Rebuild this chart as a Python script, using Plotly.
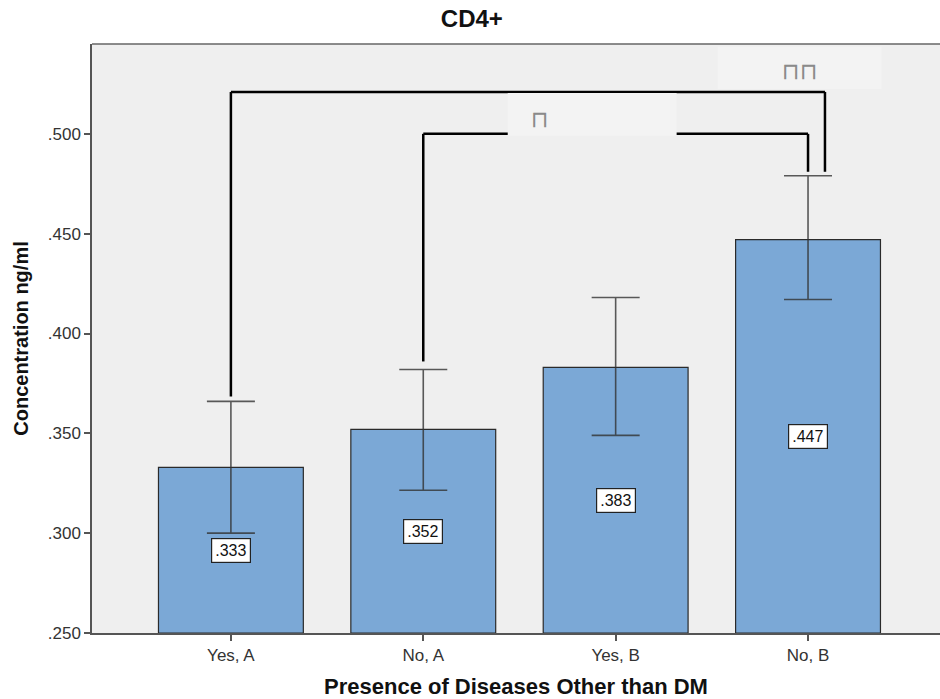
import plotly.graph_objects as go

categories = ["Yes, A", "No, A", "Yes, B", "No, B"]
means = [0.333, 0.352, 0.383, 0.447]
err_upper = [0.366, 0.382, 0.418, 0.479]
err_lower = [0.300, 0.3215, 0.349, 0.417]
value_labels = [".333", ".352", ".383", ".447"]
y_ticks = [0.25, 0.30, 0.35, 0.40, 0.45, 0.50]
y_tick_labels = [".250", ".300", ".350", ".400", ".450", ".500"]
# significance comparisons: (left index, right index, bracket height, label)
comparisons = [(0, 3, 0.521, "⊓⊓"), (1, 3, 0.500, "⊓")]

xs = list(range(len(categories)))
BG = "#efefef"
FONT = "Liberation Sans, Arial, sans-serif"

fig = go.Figure()
fig.add_trace(go.Bar(
    x=xs, y=[m - 0.25 for m in means], base=0.25, width=0.753,
    marker=dict(color="#7ba8d6", line=dict(color="#2a2a2a", width=1.2)),
    error_y=dict(type="data", symmetric=False,
                 array=[u - m for u, m in zip(err_upper, means)],
                 arrayminus=[m - l for m, l in zip(means, err_lower)],
                 color="rgba(50,50,50,0.8)", thickness=1.6, width=24),
    hoverinfo="skip", showlegend=False,
))

# value labels at mid-bar
for x, m, t in zip(xs, means, value_labels):
    fig.add_annotation(x=x, y=(0.25 + m) / 2, text=t, showarrow=False,
                       font=dict(family=FONT, size=16, color="#111"),
                       bgcolor="white", bordercolor="#222", borderwidth=1.2, borderpad=3)

shapes = []
# brackets
right_offsets = {0: 0.088, 1: 0.0}
for k, (li, ri, h, lab) in enumerate(comparisons):
    xl = xs[li]
    xr = xs[ri] + right_offsets[k]
    yl = err_upper[li] + 0.0025 if k == 0 else err_upper[li] + 0.004
    yr = err_upper[ri] + 0.002
    for (x0, y0, x1, y1) in [(xl, yl, xl, h), (xl, h, xr, h), (xr, h, xr, yr)]:
        shapes.append(dict(type="line", xref="x", yref="y", x0=x0, y0=y0, x1=x1, y1=y1,
                           line=dict(color="black", width=2.5), layer="above"))

# label boxes (drawn over the bracket lines)
label_boxes = [(2.53, 3.382, 0.5225, 0.5436), (1.439, 2.317, 0.499, 0.5205)]
for (x0, x1, y0, y1), (_, _, h, lab) in zip(label_boxes, comparisons):
    shapes.append(dict(type="rect", xref="x", yref="y", x0=x0, x1=x1, y0=y0, y1=y1,
                       fillcolor="#f3f3f3", line=dict(width=0), layer="above"))
fig.add_annotation(x=2.957, y=0.5316, text=comparisons[0][3], showarrow=False,
                   font=dict(family="DejaVu Sans", size=23, color="#8a8a8a"))
fig.add_annotation(x=1.606, y=0.5075, text=comparisons[1][3], showarrow=False,
                   font=dict(family="DejaVu Sans", size=23, color="#8a8a8a"))

# top border
shapes.append(dict(type="line", xref="paper", yref="paper", x0=0, x1=1, y0=1, y1=1,
                   line=dict(color="#666", width=1.5)))

fig.update_layout(
    width=940, height=699,
    margin=dict(l=92, r=0, t=44, b=66),
    paper_bgcolor="white", plot_bgcolor=BG,
    shapes=shapes,
    title=dict(text="<b>CD4+</b>", x=0.502, xanchor="center", y=0.973, yanchor="middle",
               font=dict(family=FONT, size=24, color="#111")),
    xaxis=dict(range=[-0.722, 3.686], tickmode="array", tickvals=xs, ticktext=categories,
               ticks="outside", ticklen=6, tickcolor="#555", tickwidth=1.5,
               showline=True, linecolor="#555", linewidth=1.5, showgrid=False, zeroline=False,
               tickfont=dict(family=FONT, size=17, color="#333"),
               title=dict(text="<b>Presence of Diseases Other than DM</b>", standoff=16,
                          font=dict(family=FONT, size=22, color="#111"))),
    yaxis=dict(range=[0.25, 0.545], tickmode="array", tickvals=y_ticks, ticktext=y_tick_labels,
               ticks="outside", ticklen=6, tickcolor="#555", tickwidth=1.5,
               showline=True, linecolor="#555", linewidth=1.5, showgrid=False, zeroline=False,
               tickfont=dict(family=FONT, size=17, color="#333"),
               title=dict(text="<b>Concentration ng/ml</b>", standoff=14,
                          font=dict(family=FONT, size=20, color="#111"))),
)

fig.write_html("out.html", config={"displayModeBar": False},
               post_script="document.body.style.margin='0';document.body.style.overflow='hidden';")
